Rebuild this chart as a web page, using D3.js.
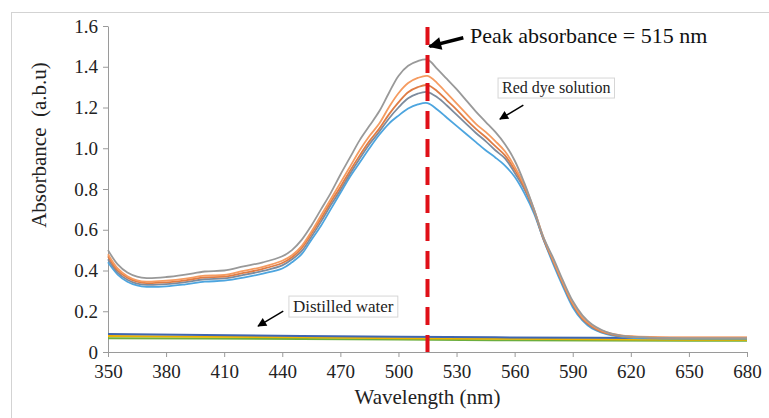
<!DOCTYPE html>
<html>
<head>
<meta charset="utf-8">
<script src="https://cdn.jsdelivr.net/npm/d3@7"></script>
<style>
    body { margin: 0; background: #fff; }
    #chart { width: 769px; height: 418px; }
    .axis path, .axis line { stroke: #9a9a9a; }
</style>
</head>
<body>
<div id="chart"></div>
<script>

// wavelength grid the curves were read at (nm)
const wavelengths = [350, 355, 360, 365, 370, 380, 390, 400, 410, 420, 430, 440,
    445, 450, 455, 460, 465, 470, 475, 480, 485, 490, 495, 500, 505, 510, 515, 520,
    525, 530, 535, 540, 545, 550, 555, 560, 565, 570, 575, 580, 585, 590, 595, 600,
    605, 610, 615, 620, 630, 640, 650, 660, 670, 680];

// red dye solution spectra (five runs)
const dyeGray = [.50, .43, .39, .37, .363, .368, .38, .395, .40, .42, .44, .47,
    .50, .55, .62, .70, .78, .87, .955, 1.04, 1.11, 1.18, 1.27, 1.355, 1.405, 1.428, 1.435, 1.39,
    1.34, 1.29, 1.235, 1.18, 1.13, 1.08, 1.02, .94, .83, .70, .56, .46, .35, .25, .18, .135,
    .108, .09, .08, .075, .071, .069, .068, .068, .068, .068];
const dyeOrange = [.48, .41, .372, .352, .345, .35, .36, .375, .378, .398, .418, .448,
    .475, .52, .59, .67, .75, .83, .91, .99, 1.06, 1.12, 1.2, 1.27, 1.32, 1.345, 1.355, 1.32,
    1.27, 1.22, 1.17, 1.12, 1.08, 1.035, .985, .91, .82, .70, .56, .45, .34, .24, .17, .13,
    .105, .09, .082, .078, .074, .072, .072, .072, .072, .072];
const dyeDarkOrange = [.47, .40, .365, .345, .338, .342, .352, .366, .37, .388, .408, .437,
    .465, .51, .58, .655, .735, .81, .89, .965, 1.035, 1.095, 1.165, 1.225, 1.275, 1.30, 1.31, 1.28,
    1.235, 1.19, 1.14, 1.095, 1.055, 1.01, .965, .895, .81, .695, .555, .445, .335, .235, .165, .125,
    .10, .087, .079, .075, .072, .07, .07, .07, .07, .07];
const dyeSlate = [.455, .39, .355, .336, .33, .333, .343, .357, .361, .378, .398, .425,
    .455, .495, .565, .64, .72, .795, .875, .95, 1.02, 1.08, 1.145, 1.20, 1.245, 1.268, 1.276, 1.25,
    1.21, 1.165, 1.12, 1.075, 1.035, .99, .95, .88, .80, .69, .55, .44, .33, .23, .16, .12,
    .097, .085, .077, .073, .07, .068, .068, .068, .068, .068];
const dyeBlue = [.44, .38, .345, .327, .32, .322, .332, .345, .35, .365, .385, .41,
    .44, .48, .55, .62, .70, .78, .86, .93, 1.0, 1.065, 1.12, 1.16, 1.195, 1.215, 1.222, 1.19,
    1.15, 1.11, 1.07, 1.03, .99, .955, .915, .86, .78, .68, .55, .43, .32, .22, .155, .115,
    .095, .082, .075, .07, .067, .066, .066, .066, .066, .066];

// distilled water baselines
const waterWavelengths = [350, 400, 450, 500, 550, 600, 650, 680];
const waterBlue = [.088, .083, .079, .075, .072, .07, .068, .067];
const waterYellow = [.078, .075, .072, .068, .065, .062, .06, .06];
const waterGreen = [.068, .066, .064, .061, .058, .056, .055, .055];

// axis ticks
const xTicks = [350, 380, 410, 440, 470, 500, 530, 560, 590, 620, 650, 680];
const yTicks = [0, 0.2, 0.4, 0.6, 0.8, 1.0, 1.2, 1.4, 1.6];

const peakWavelength = 515;

const SERIF = "'Liberation Serif', 'Times New Roman', Times, 'DejaVu Serif', serif";

class makeChart {

    constructor(opts) {
        Object.assign(this, opts);
        this.appendElements();
        this.update();
    }

    update() {
        this._setDimensions();
        this._setScales();
        this.render();
    }

    _setDimensions() {
        this.margin = { top: 26, right: 22, bottom: 66, left: 108 };
        this.width = 769 - this.margin.left - this.margin.right;
        this.height = 418 - this.margin.top - this.margin.bottom;
    }

    _setScales() {
        this.xScale = d3.scaleLinear()
            .range([0, this.width])
            .domain([350, 680]);

        this.yScale = d3.scaleLinear()
            .range([this.height, 0])
            .domain([0, 1.6]);
    }

    appendElements() {
        this.svg = d3.select(this.element).append("svg");

        // arrow heads for the annotations
        const defs = this.svg.append("defs");
        defs.append("marker")
            .attr("id", "bigHead")
            .attr("markerUnits", "userSpaceOnUse")
            .attr("viewBox", "0 0 10 10")
            .attr("refX", 9).attr("refY", 5)
            .attr("markerWidth", 15).attr("markerHeight", 13)
            .attr("orient", "auto")
            .append("path").attr("d", "M0,0 L10,5 L0,10 z").attr("fill", "#000");
        defs.append("marker")
            .attr("id", "smallHead")
            .attr("markerUnits", "userSpaceOnUse")
            .attr("viewBox", "0 0 10 10")
            .attr("refX", 9).attr("refY", 5)
            .attr("markerWidth", 10).attr("markerHeight", 9)
            .attr("orient", "auto")
            .append("path").attr("d", "M0,0 L10,5 L0,10 z").attr("fill", "#000");

        // light frame around the figure
        this.frame = this.svg.append("rect");

        this.plot = this.svg.append("g").attr("class", "chart-g");
        this.xAxis = this.plot.append("g").classed("axis x-axis", true);
        this.yAxis = this.plot.append("g").classed("axis y-axis", true);
        this.lines = this.plot.append("g");
        this.notes = this.plot.append("g");
    }

    render() {
        const x = this.xScale, y = this.yScale;

        this.svg.attr("width", this.width + this.margin.left + this.margin.right);
        this.svg.attr("height", this.height + this.margin.top + this.margin.bottom);

        this.frame
            .attr("x", 11.5).attr("y", 12.5)
            .attr("width", 800).attr("height", 450)
            .attr("fill", "none")
            .attr("stroke", "#d3d3d3");

        this.plot.attr("transform", `translate(${this.margin.left},${this.margin.top})`);

        this.xAxis
            .attr("transform", `translate(0,${this.height})`)
            .call(d3.axisBottom(x).tickValues(xTicks).tickSize(5).tickSizeOuter(0).tickPadding(8));

        this.yAxis
            .call(d3.axisLeft(y).tickValues(yTicks).tickSize(5).tickSizeOuter(0).tickPadding(5)
                .tickFormat(d => d === 0 ? "0" : d.toFixed(1)));

        // d3 puts font-family on the axis group itself, so override it there
        this.plot.selectAll(".axis")
            .attr("font-family", SERIF)
            .attr("font-size", 19);
        this.plot.selectAll(".axis text").attr("fill", "#222");

        // distilled water first, dye spectra on top
        const water = [
            { vals: waterGreen, color: "#6cae3e" },
            { vals: waterYellow, color: "#efb300" },
            { vals: waterBlue, color: "#3f66b0" }
        ];
        const waterLine = d3.line()
            .x((d, i) => x(waterWavelengths[i]))
            .y(d => y(d));
        this.lines.selectAll(".water")
            .data(water)
            .join("path")
            .attr("class", "water")
            .attr("d", d => waterLine(d.vals))
            .attr("fill", "none")
            .attr("stroke", d => d.color)
            .attr("stroke-width", 2);

        const dyes = [
            { vals: dyeBlue, color: "#4da5df" },
            { vals: dyeSlate, color: "#7d8b9d" },
            { vals: dyeDarkOrange, color: "#df7c45" },
            { vals: dyeOrange, color: "#f59b60" },
            { vals: dyeGray, color: "#999999" }
        ];
        const dyeLine = d3.line()
            .x((d, i) => x(wavelengths[i]))
            .y(d => y(d))
            .curve(d3.curveCatmullRom);
        this.lines.selectAll(".dye")
            .data(dyes)
            .join("path")
            .attr("class", "dye")
            .attr("d", d => dyeLine(d.vals))
            .attr("fill", "none")
            .attr("stroke", d => d.color)
            .attr("stroke-width", 1.8);

        // red dashed marker at the peak
        this.notes.append("line")
            .attr("x1", x(peakWavelength)).attr("x2", x(peakWavelength))
            .attr("y1", y(1.595)).attr("y2", y(0))
            .attr("stroke", "#e01018")
            .attr("stroke-width", 4)
            .attr("stroke-dasharray", "18,10");

        // peak annotation
        this.notes.append("line")
            .attr("x1", x(533.5)).attr("y1", y(1.542))
            .attr("x2", x(516)).attr("y2", y(1.5))
            .attr("stroke", "#000").attr("stroke-width", 3.5)
            .attr("marker-end", "url(#bigHead)");
        this.notes.append("text")
            .attr("x", x(537)).attr("y", y(1.516))
            .attr("font-family", SERIF).attr("font-size", 22).attr("fill", "#111")
            .text(`Peak absorbance = ${peakWavelength} nm`);

        // boxed labels with small arrows
        const boxed = [
            { text: "Red dye solution", tx: 553.5, ty: 1.271, size: 16, from: [564.5, 1.212], to: [552.4, 1.143] },
            { text: "Distilled water", tx: 445.5, ty: 0.196, size: 17, from: [440.5, 0.201], to: [427.5, 0.127] }
        ];
        boxed.forEach(b => {
            const g = this.notes.append("g");
            const rect = g.append("rect");
            const t = g.append("text")
                .attr("x", x(b.tx)).attr("y", y(b.ty))
                .attr("font-family", SERIF).attr("font-size", b.size).attr("fill", "#222")
                .text(b.text);
            const bb = t.node().getBBox();
            rect.attr("x", bb.x - 4).attr("y", bb.y - 1)
                .attr("width", bb.width + 8).attr("height", bb.height + 2)
                .attr("fill", "#fff").attr("stroke", "#d6d6d6");
            this.notes.append("line")
                .attr("x1", x(b.from[0])).attr("y1", y(b.from[1]))
                .attr("x2", x(b.to[0])).attr("y2", y(b.to[1]))
                .attr("stroke", "#000").attr("stroke-width", 1.5)
                .attr("marker-end", "url(#smallHead)");
        });

        // axis titles
        this.plot.append("text")
            .attr("x", this.width / 2).attr("y", this.height + 52)
            .attr("text-anchor", "middle")
            .attr("font-family", SERIF).attr("font-size", 21).attr("fill", "#222")
            .text("Wavelength (nm)");

        this.plot.append("text")
            .attr("transform", `translate(${46 - this.margin.left},${145 - this.margin.top}) rotate(-90)`)
            .attr("text-anchor", "middle")
            .attr("font-family", SERIF).attr("font-size", 21).attr("fill", "#222")
            .style("white-space", "pre")
            .text("Absorbance  (a.b.u)");
    }
}

new makeChart({ element: document.querySelector("#chart") });
</script>
</body>
</html>
